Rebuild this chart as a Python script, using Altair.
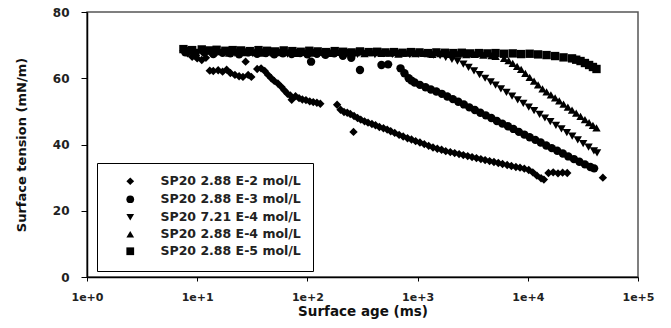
import altair as alt
import pandas as pd

names = ["SP20 2.88 E-2 mol/L", "SP20 2.88 E-3 mol/L", "SP20 7.21 E-4 mol/L",
         "SP20 2.88 E-4 mol/L", "SP20 2.88 E-5 mol/L"]
shapes = ["diamond", "circle", "triangle-down", "triangle-up", "square"]

# SP20 2.88 E-2 mol/L (diamond)
t_a = [7.5, 8.2, 9, 10, 11, 12, 13, 14, 15.5, 17, 18.5, 20, 22, 24, 26, 27.5, 29, 31, 35, 38,
       41, 44, 47, 50, 54, 58, 62, 66, 70, 72, 78, 84, 90, 97, 105, 113, 122, 131, 186, 200,
       215, 230, 245, 262, 265, 285, 305, 330, 355, 385, 415, 450, 490, 530, 570, 620, 680, 740,
       810, 880, 960, 1050, 1150, 1260, 1380, 1510, 1650, 1800, 1980, 2170, 2380, 2600, 2850,
       3120, 3420, 3750, 4100, 4500, 4930, 5400, 5900, 6500, 7100, 7800, 8500, 9300, 10200,
       11100, 12100, 13200, 14000, 15400, 17000, 18800, 20700, 22800, 48000]
v_a = [68.3, 67.5, 66.5, 66.0, 65.5, 66.2, 62.3, 62.2, 62.4, 62.0, 62.6, 61.6, 61.0, 60.6, 60.4,
       65.0, 61.0, 60.4, 62.8, 63.0, 62.2, 61.0, 60.0, 59.2, 58.4, 57.4, 56.3, 55.3, 54.8, 53.5,
       54.6, 54.0, 53.6, 53.4, 53.0, 52.8, 52.6, 52.3, 52.0, 50.5, 49.8, 49.6, 49.2, 43.8, 48.6,
       48.0, 47.5, 47.0, 46.6, 46.2, 45.8, 45.3, 44.9, 44.5, 44.0, 43.5, 42.9, 42.4, 41.9, 41.5,
       41.0, 40.6, 40.1, 39.6, 39.1, 38.7, 38.4, 38.0, 37.7, 37.4, 37.1, 36.8, 36.5, 36.2, 35.9,
       35.6, 35.3, 35.0, 34.7, 34.4, 34.1, 33.8, 33.5, 33.2, 33.0, 32.7, 32.3, 31.6, 30.6, 29.8,
       29.4, 31.4, 31.6, 31.3, 31.5, 31.4, 30.0]

# SP20 2.88 E-3 mol/L (circle)
t_b = [7.8, 9.5, 11.5, 14, 17, 20, 24, 29, 35, 42, 50, 60, 72, 86, 100, 108, 122, 146, 175, 210,
       250, 300, 470, 540, 700, 760, 830, 880, 940, 1050, 1180, 1320, 1480, 1660, 1860, 2090, 2340,
       2630, 2950, 3310, 3710, 4160, 4670, 5240, 5880, 6600, 7400, 8300, 9300, 10400, 11700,
       13100, 14700, 16500, 18500, 20800, 23300, 26200, 29400, 33000, 37000, 40000]
v_b = [67.8, 67.4, 67.9, 67.3, 67.7, 67.5, 67.2, 67.8, 67.4, 67.6, 67.2, 67.5, 67.3, 67.6, 67.2,
       65.0, 67.4, 67.1, 67.5, 66.8, 66.2, 62.5, 64.0, 64.2, 63.0, 61.5, 60.0, 59.3, 58.7, 58.0,
       57.3, 56.6, 56.0, 55.3, 54.5, 53.7, 52.9, 52.1, 51.2, 50.4, 49.6, 48.8, 48.0, 47.1, 46.3,
       45.5, 44.7, 43.8, 43.0, 42.2, 41.4, 40.6, 39.7, 38.9, 38.1, 37.3, 36.4, 35.6, 34.8, 34.0,
       33.2, 32.8]

# SP20 7.21 E-4 mol/L (triangle-down)
t_c = [8.4, 10.2, 12.4, 15, 18.2, 22, 26.5, 32, 38.5, 46, 55, 66, 79, 95, 114, 137, 165, 198, 238,
       285, 342, 410, 492, 590, 708, 850, 1020, 1240, 1400, 1600, 1800, 2050, 2300, 2600, 2900,
       3250, 3650, 4100, 4600, 5100, 5700, 6400, 7200, 8100, 9100, 10200, 11400, 12800, 14300,
       16000, 18000, 20200, 22600, 25300, 28400, 31800, 35600, 39800, 42500]
v_c = [68.4, 67.8, 68.2, 67.6, 68.1, 67.5, 68.0, 67.4, 67.9, 67.5, 67.8, 67.3, 67.7, 67.4, 67.8,
       67.2, 67.6, 67.3, 67.7, 67.2, 67.5, 67.1, 67.4, 67.2, 67.5, 67.1, 67.3, 67.2, 67.0, 66.8,
       66.3, 65.7, 65.2, 64.3, 63.3, 62.2, 61.1, 60.0, 58.9, 57.9, 56.8, 55.7, 54.6, 53.5, 52.4,
       51.3, 50.2, 49.1, 48.0, 46.9, 45.8, 44.7, 43.6, 42.5, 41.4, 40.3, 39.2, 38.1, 37.5]

# SP20 2.88 E-4 mol/L (triangle-up)
t_d = [8, 9.8, 12, 14, 16.5, 19.5, 23, 27.5, 33, 39.5, 47, 56, 67, 80, 95, 114, 136, 162, 194,
       231, 276, 330, 395, 470, 560, 670, 800, 955, 1140, 1360, 1620, 1940, 2310, 2760, 3300,
       3950, 4700, 5100, 6100, 6700, 7300, 8000, 8700, 9500, 10400, 11400, 12400, 13600, 14800,
       16200, 17700, 19300, 21100, 23100, 25200, 27500, 30100, 33000, 36000, 39000, 42000]
v_d = [68.1, 67.7, 68.2, 67.8, 68.0, 67.6, 68.1, 67.7, 67.9, 67.6, 68.0, 67.7, 67.9, 67.5, 67.8,
       67.6, 67.9, 67.5, 67.8, 67.6, 67.7, 67.4, 67.7, 67.5, 67.6, 67.3, 67.6, 67.4, 67.5, 67.2,
       67.4, 67.2, 67.3, 67.1, 67.2, 67.0, 66.8, 66.6, 66.0, 65.3, 64.5, 63.6, 62.7, 61.5, 60.3,
       59.1, 58.0, 56.8, 55.9, 55.0, 54.1, 53.2, 52.2, 51.3, 50.4, 49.5, 48.5, 47.5, 46.6, 45.8,
       45.0]

# SP20 2.88 E-5 mol/L (square)
t_e = [7.5, 9, 11, 13, 15, 18, 21, 25, 30, 36, 43, 51, 61, 73, 87, 104, 124, 148, 177, 211, 252,
       300, 360, 430, 510, 610, 730, 870, 1040, 1240, 1480, 1770, 2110, 2520, 3000, 3600, 4300,
       5100, 6100, 7300, 8700, 10400, 12400, 14800, 17700, 21100, 25200, 27500, 30100, 33000,
       36000, 39000, 42000]
v_e = [68.8, 68.5, 68.7, 68.4, 68.6, 68.3, 68.5, 68.4, 68.2, 68.5, 68.3, 68.1, 68.4, 68.2, 68.0,
       68.3, 68.1, 67.9, 68.2, 68.0, 67.8, 68.1, 67.9, 68.0, 67.8, 67.9, 67.7, 67.9, 67.8, 67.6,
       67.8, 67.7, 67.6, 67.7, 67.5, 67.6, 67.5, 67.6, 67.4, 67.5, 67.3, 67.4, 67.2, 67.0, 66.7,
       66.3, 66.0, 65.6, 65.2, 64.6, 64.0, 63.4, 62.8]

x_ticks = [1, 10, 100, 1000, 10000, 100000]
y_ticks = [0, 20, 40, 60, 80]

rows = []
for name, ts, vs in zip(names, [t_a, t_b, t_c, t_d, t_e], [v_a, v_b, v_c, v_d, v_e]):
    for t, v in zip(ts, vs):
        rows.append({"t": t, "v": v, "s": name})
df = pd.DataFrame(rows)

FONT = "DejaVu Sans"

chart = alt.Chart(df).mark_point(filled=True, size=70, opacity=1, color="black").encode(
    x=alt.X("t:Q",
            scale=alt.Scale(type="log", domain=[1, 100000]),
            axis=alt.Axis(values=x_ticks, format=".0e", title="Surface age (ms)",
                          grid=False, tickSize=4, labelPadding=10, labelFlush=False,
                          labelFontSize=11, titleFontSize=13.5,
                          titleY=38, titleBaseline="alphabetic")),
    y=alt.Y("v:Q",
            scale=alt.Scale(domain=[0, 80]),
            axis=alt.Axis(values=y_ticks, title="Surface tension (mN/m)",
                          grid=False, tickSize=6, labelPadding=12, labelFlush=False,
                          labelFontSize=12, titleFontSize=13,
                          titleX=-62, titleBaseline="alphabetic")),
    shape=alt.Shape("s:N",
                    scale=alt.Scale(domain=names, range=shapes),
                    legend=alt.Legend(title=None, orient="none", legendX=10, legendY=151,
                                      strokeColor="black", fillColor="white",
                                      padding=12, symbolOffset=15, labelOffset=24,
                                      rowPadding=3, symbolSize=60,
                                      symbolFillColor="black", symbolStrokeColor="black",
                                      labelFont=FONT, labelFontWeight="bold",
                                      labelFontSize=12.5, labelColor="#222222")),
).properties(
    width=551, height=265,
    autosize=alt.AutoSizeParams(type="none"),
    padding={"left": 87, "top": 12, "right": 33, "bottom": 51},
    background="white",
).configure_view(
    stroke="#555555", strokeWidth=1.5
).configure_axis(
    domainColor="black", domainWidth=1.5, tickColor="black", tickWidth=1,
    labelFont=FONT, labelFontWeight="bold", labelColor="#222222",
    titleFont=FONT, titleFontWeight="bold", titleColor="#111111",
)

chart.save("out.html", embed_options={"renderer": "svg", "actions": False})
